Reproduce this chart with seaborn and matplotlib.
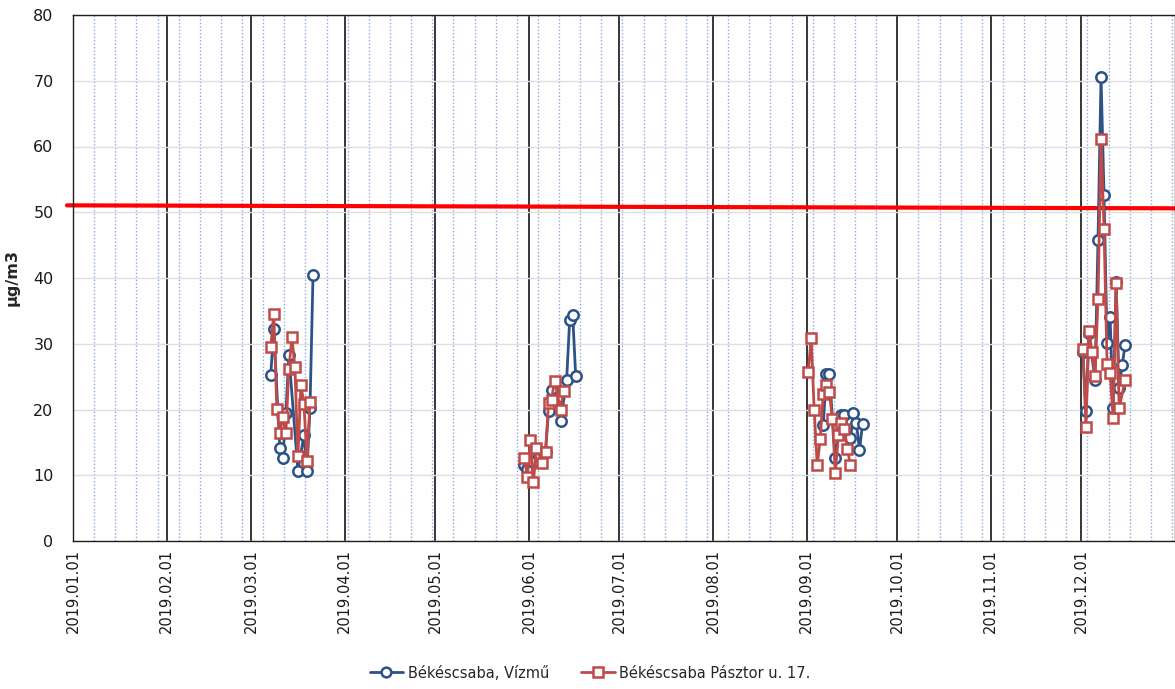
import matplotlib
matplotlib.use("Agg")
import matplotlib.pyplot as plt
import matplotlib.dates as mdates
from matplotlib.lines import Line2D
from matplotlib.ticker import FixedLocator
import pandas as pd
import seaborn as sns

sns.set_theme(style="white")
plt.rcParams["font.family"] = ["DejaVu Sans"]

# ---------------------------------------------------------------- data
station_vizmu = "Békéscsaba, Vízmű"
station_pasztor = "Békéscsaba Pásztor u. 17."

# Daily PM10 concentrations (µg/m3), one list per measuring campaign
vizmu_mar_dates = ["2019-03-07", "2019-03-08", "2019-03-10", "2019-03-11", "2019-03-12",
                   "2019-03-13", "2019-03-16", "2019-03-18", "2019-03-19", "2019-03-20",
                   "2019-03-21"]
vizmu_mar = [25.3, 32.2, 14.1, 12.6, 19.4, 28.3, 10.7, 16.1, 10.7, 20.3, 40.5]

vizmu_jun_dates = ["2019-05-30", "2019-05-31", "2019-06-02", "2019-06-04", "2019-06-06",
                   "2019-06-07", "2019-06-08", "2019-06-10", "2019-06-11", "2019-06-13",
                   "2019-06-14", "2019-06-15", "2019-06-16"]
vizmu_jun = [11.5, 11.0, 12.0, 13.0, 13.5, 19.8, 23.0, 21.9, 18.2, 24.5, 33.6, 34.4, 25.1]

vizmu_sep_dates = ["2019-09-06", "2019-09-07", "2019-09-08", "2019-09-10", "2019-09-12",
                   "2019-09-13", "2019-09-15", "2019-09-16", "2019-09-17", "2019-09-18",
                   "2019-09-19"]
vizmu_sep = [17.6, 25.4, 25.4, 12.6, 19.2, 19.2, 15.6, 19.4, 17.9, 13.8, 17.8]

vizmu_dec_dates = ["2019-12-01", "2019-12-02", "2019-12-03", "2019-12-05", "2019-12-06",
                   "2019-12-07", "2019-12-08", "2019-12-09", "2019-12-10", "2019-12-11",
                   "2019-12-12", "2019-12-13", "2019-12-14", "2019-12-15"]
vizmu_dec = [28.8, 19.7, 31.6, 24.5, 45.8, 70.6, 52.6, 30.1, 34.1, 20.2, 39.4, 23.2, 26.8, 29.8]

pasztor_mar_dates = ["2019-03-07", "2019-03-08", "2019-03-09", "2019-03-10", "2019-03-11",
                     "2019-03-12", "2019-03-13", "2019-03-14", "2019-03-15", "2019-03-16",
                     "2019-03-17", "2019-03-18", "2019-03-19", "2019-03-20"]
pasztor_mar = [29.5, 34.6, 20.1, 16.5, 18.8, 16.4, 26.1, 31.0, 26.4, 12.9, 23.7, 20.8, 12.2, 21.2]

pasztor_jun_dates = ["2019-05-30", "2019-05-31", "2019-06-01", "2019-06-02", "2019-06-03",
                     "2019-06-05", "2019-06-06", "2019-06-07", "2019-06-08", "2019-06-09",
                     "2019-06-11", "2019-06-12"]
pasztor_jun = [12.6, 9.8, 15.4, 9.0, 14.1, 11.8, 13.6, 21.0, 21.5, 24.4, 19.9, 22.8]

pasztor_sep_dates = ["2019-09-01", "2019-09-02", "2019-09-03", "2019-09-04", "2019-09-05",
                     "2019-09-06", "2019-09-07", "2019-09-08", "2019-09-09", "2019-09-10",
                     "2019-09-11", "2019-09-12", "2019-09-13", "2019-09-14", "2019-09-15"]
pasztor_sep = [25.7, 30.8, 19.9, 11.5, 15.5, 22.4, 23.8, 22.7, 18.6, 10.3, 16.1, 17.9, 17.0,
               14.0, 11.5]

pasztor_dec_dates = ["2019-12-01", "2019-12-02", "2019-12-03", "2019-12-04", "2019-12-05",
                     "2019-12-06", "2019-12-07", "2019-12-08", "2019-12-09", "2019-12-10",
                     "2019-12-11", "2019-12-12", "2019-12-13", "2019-12-15"]
pasztor_dec = [29.2, 17.4, 32.0, 28.8, 25.1, 36.8, 61.1, 47.4, 26.9, 25.5, 18.7, 39.2, 20.2, 24.5]

# Daily limit value line
limit_dates = ["2018-12-30", "2020-01-01"]
limit_values = [51.05, 50.6]

y_ticks = [0, 10, 20, 30, 40, 50, 60, 70, 80]
y_label = "μg/m3"

# ---------------------------------------------------------------- frames
def campaign_frame(station, parts):
    rows = []
    for campaign, (dates, values) in enumerate(parts):
        for d, v in zip(dates, values):
            rows.append({"station": station, "campaign": campaign,
                         "date": pd.Timestamp(d) + pd.Timedelta(hours=12), "value": v})
    return pd.DataFrame(rows)


df_vizmu = campaign_frame(station_vizmu, [(vizmu_mar_dates, vizmu_mar),
                                          (vizmu_jun_dates, vizmu_jun),
                                          (vizmu_sep_dates, vizmu_sep),
                                          (vizmu_dec_dates, vizmu_dec)])
df_pasztor = campaign_frame(station_pasztor, [(pasztor_mar_dates, pasztor_mar),
                                              (pasztor_jun_dates, pasztor_jun),
                                              (pasztor_sep_dates, pasztor_sep),
                                              (pasztor_dec_dates, pasztor_dec)])
df_limit = pd.DataFrame({"date": pd.to_datetime(limit_dates), "value": limit_values})

# ---------------------------------------------------------------- figure
blue = "#2C5288"
red = "#BE4B48"

fig = plt.figure(figsize=(11.75, 6.89), dpi=100)
ax = fig.add_axes([73 / 1175, 1 - 541 / 689, 1 - 73 / 1175, (541 - 15) / 689])

ax.set_axisbelow(True)

sns.lineplot(data=df_vizmu, x="date", y="value", units="campaign", estimator=None,
             color=blue, lw=2.0, marker="o", markersize=7.5, markerfacecolor="white",
             markeredgecolor=blue, markeredgewidth=1.8, ax=ax, zorder=3, legend=False)
sns.lineplot(data=df_pasztor, x="date", y="value", units="campaign", estimator=None,
             color=red, lw=2.0, marker="s", markersize=7.5, markerfacecolor="white",
             markeredgecolor=red, markeredgewidth=1.8, ax=ax, zorder=4, legend=False)
sns.lineplot(data=df_limit, x="date", y="value", color="#FF0000", lw=3.0, ax=ax,
             zorder=2, legend=False)
ax.lines[-1].set_clip_on(False)

# axes ranges and ticks
ax.set_xlim(pd.Timestamp("2019-01-01"), pd.Timestamp("2020-01-01"))
ax.set_ylim(0, 80)
ax.set_yticks(y_ticks)

months = pd.date_range("2019-01-01", "2019-12-01", freq="MS")
weeks = pd.date_range("2019-01-01", "2019-12-31", freq="7D")
ax.xaxis.set_major_locator(FixedLocator(mdates.date2num(months)))
ax.xaxis.set_major_formatter(mdates.DateFormatter("%Y.%m.%d"))
ax.xaxis.set_minor_locator(FixedLocator(mdates.date2num(weeks)))

ax.grid(axis="y", which="major", color="#DEDEDE", lw=1.0)
ax.grid(axis="x", which="major", color="black", lw=1.1)
ax.grid(axis="x", which="minor", color="#8EA9DB", lw=1.0, ls=(0, (1, 1.5)))

ax.tick_params(axis="x", which="both", direction="in", length=5, width=1,
               color="#404040", pad=6, labelsize=10.5, labelcolor="#1a1a1a")
ax.tick_params(axis="y", length=0, pad=14, labelsize=11.5, labelcolor="#1a1a1a")
plt.setp(ax.get_xticklabels(), rotation=90, ha="center", va="top")

ax.set_xlabel("")
ax.set_ylabel(y_label, fontsize=11.5, fontweight="bold", labelpad=10)

for side in ["left", "bottom", "top", "right"]:
    ax.spines[side].set_visible(True)
    ax.spines[side].set_color("#202020")
    ax.spines[side].set_linewidth(1.0)

# legend
handles = [
    Line2D([0], [0], color=blue, lw=2.0, marker="o", markersize=7, markerfacecolor="white",
           markeredgecolor=blue, markeredgewidth=1.8),
    Line2D([0], [0], color=red, lw=2.0, marker="s", markersize=7, markerfacecolor="white",
           markeredgecolor=red, markeredgewidth=1.8),
]
fig.legend(handles, [station_vizmu, station_pasztor], loc="center",
           bbox_to_anchor=(590 / 1175, 1 - 673 / 689), ncol=2, frameon=False,
           fontsize=10.5, handlelength=2.3, handletextpad=0.3, columnspacing=2.2)

fig.savefig("out.png", dpi=100)
